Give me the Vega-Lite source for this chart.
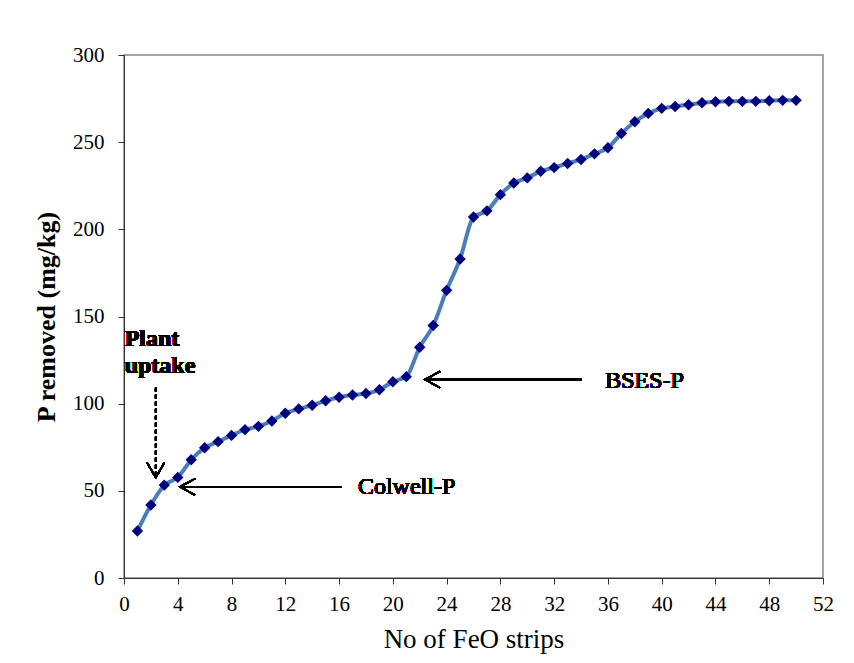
{
  "$schema": "https://vega.github.io/schema/vega-lite/v6.json",
  "width": 699,
  "height": 523,
  "autosize": {"type": "none"},
  "padding": {"left": 124, "top": 55, "right": 31, "bottom": 85},
  "background": "white",
  "config": {
    "view": {"stroke": "#888888", "strokeWidth": 1.5},
    "font": "Liberation Serif",
    "axis": {
      "labelFont": "Liberation Serif",
      "titleFont": "Liberation Serif",
      "labelColor": "black",
      "titleColor": "black",
      "domainColor": "#333333",
      "tickColor": "#333333",
      "grid": false
    }
  },
  "data": {
    "values": [
      {"strips": 1, "p": 27.0}, {"strips": 2, "p": 41.9}, {"strips": 3, "p": 53.3},
      {"strips": 4, "p": 57.7}, {"strips": 5, "p": 67.8}, {"strips": 6, "p": 74.7},
      {"strips": 7, "p": 78.2}, {"strips": 8, "p": 81.8}, {"strips": 9, "p": 85.1},
      {"strips": 10, "p": 87.0}, {"strips": 11, "p": 90.1}, {"strips": 12, "p": 94.5},
      {"strips": 13, "p": 97.0}, {"strips": 14, "p": 99.1}, {"strips": 15, "p": 101.7},
      {"strips": 16, "p": 103.7}, {"strips": 17, "p": 105.0}, {"strips": 18, "p": 105.8},
      {"strips": 19, "p": 108.0}, {"strips": 20, "p": 112.6}, {"strips": 21, "p": 115.5},
      {"strips": 22, "p": 132.4}, {"strips": 23, "p": 144.8}, {"strips": 24, "p": 165.0},
      {"strips": 25, "p": 183.0}, {"strips": 26, "p": 207.1}, {"strips": 27, "p": 210.6},
      {"strips": 28, "p": 219.9}, {"strips": 29, "p": 226.6}, {"strips": 30, "p": 229.5},
      {"strips": 31, "p": 233.3}, {"strips": 32, "p": 235.4}, {"strips": 33, "p": 237.8},
      {"strips": 34, "p": 240.1}, {"strips": 35, "p": 243.3}, {"strips": 36, "p": 246.8},
      {"strips": 37, "p": 255.0}, {"strips": 38, "p": 261.7}, {"strips": 39, "p": 266.5},
      {"strips": 40, "p": 269.4}, {"strips": 41, "p": 270.5}, {"strips": 42, "p": 271.5},
      {"strips": 43, "p": 272.6}, {"strips": 44, "p": 273.2}, {"strips": 45, "p": 273.4},
      {"strips": 46, "p": 273.4}, {"strips": 47, "p": 273.4}, {"strips": 48, "p": 273.8},
      {"strips": 49, "p": 274.0}, {"strips": 50, "p": 274.0}
    ]
  },
  "encoding": {
    "x": {
      "field": "strips", "type": "quantitative",
      "scale": {"domain": [0, 52], "nice": false},
      "axis": {
        "values": [0, 4, 8, 12, 16, 20, 24, 28, 32, 36, 40, 44, 48, 52],
        "title": "No of FeO strips", "titleFontSize": 27, "titleFontWeight": "normal",
        "titlePadding": 12, "labelFontSize": 21, "tickSize": 6, "labelPadding": 9,
        "labelFlush": false
      }
    },
    "y": {
      "field": "p", "type": "quantitative",
      "scale": {"domain": [0, 300], "nice": false},
      "axis": {
        "values": [0, 50, 100, 150, 200, 250, 300],
        "title": "P removed (mg/kg)", "titleFontSize": 26, "titleFontWeight": "bold",
        "titlePadding": 13, "labelFontSize": 21, "tickSize": 6, "labelPadding": 14,
        "labelFlush": false
      }
    }
  },
  "layer": [
    {"mark": {"type": "line", "color": "#4A7EBB", "strokeWidth": 4, "interpolate": "monotone"}},
    {"mark": {"type": "point", "shape": "diamond", "filled": true, "color": "#000080", "size": 130, "opacity": 1}},
    {
      "mark": {"type": "rule", "color": "black", "strokeWidth": 1.5},
      "encoding": {"x": {"datum": 4.17}, "x2": {"datum": 16.2}, "y": {"datum": 52.3}, "y2": {"datum": 52.3}}
    },
    {
      "mark": {"type": "point", "shape": "M1,-0.55L0,0L1,0.55", "filled": false, "stroke": "black", "strokeWidth": 1.5, "size": 900, "opacity": 1},
      "encoding": {"x": {"datum": 4.17}, "y": {"datum": 52.3}}
    },
    {
      "mark": {"type": "rule", "color": "black", "strokeWidth": 1.5},
      "encoding": {"x": {"datum": 22.4}, "x2": {"datum": 34.05}, "y": {"datum": 113.8}, "y2": {"datum": 113.8}}
    },
    {
      "mark": {"type": "point", "shape": "M1,-0.55L0,0L1,0.55", "filled": false, "stroke": "black", "strokeWidth": 1.5, "size": 900, "opacity": 1},
      "encoding": {"x": {"datum": 22.4}, "y": {"datum": 113.8}}
    },
    {
      "mark": {"type": "rule", "color": "black", "strokeWidth": 1.5, "strokeDash": [4, 3]},
      "encoding": {"x": {"datum": 2.36}, "x2": {"datum": 2.36}, "y": {"datum": 109.2}, "y2": {"datum": 58.5}}
    },
    {
      "mark": {"type": "point", "shape": "M-0.58,-1L0,0L0.58,-1", "filled": false, "stroke": "black", "strokeWidth": 1.5, "size": 900, "opacity": 1},
      "encoding": {"x": {"datum": 2.36}, "y": {"datum": 57.6}}
    },
    {
      "mark": {"type": "text", "text": "Plant", "align": "left", "baseline": "alphabetic", "font": "Liberation Serif", "fontWeight": "bold", "fontSize": 24, "fill": "black", "strokeWidth": 0},
      "encoding": {"x": {"datum": 0.05}, "y": {"datum": 132.9}}
    },
    {
      "mark": {"type": "text", "text": "uptake", "align": "left", "baseline": "alphabetic", "font": "Liberation Serif", "fontWeight": "bold", "fontSize": 24, "fill": "black", "strokeWidth": 0},
      "encoding": {"x": {"datum": 0.05}, "y": {"datum": 117.8}}
    },
    {
      "mark": {"type": "text", "text": "Colwell-P", "align": "left", "baseline": "alphabetic", "font": "Liberation Serif", "fontWeight": "normal", "fontSize": 24, "fill": "black", "strokeWidth": 0},
      "encoding": {"x": {"datum": 17.4}, "y": {"datum": 47.9}}
    },
    {
      "mark": {"type": "text", "text": "BSES-P", "align": "left", "baseline": "alphabetic", "font": "Liberation Serif", "fontWeight": "normal", "fontSize": 24, "fill": "black", "strokeWidth": 0},
      "encoding": {"x": {"datum": 35.8}, "y": {"datum": 109.0}}
    }
  ]
}
